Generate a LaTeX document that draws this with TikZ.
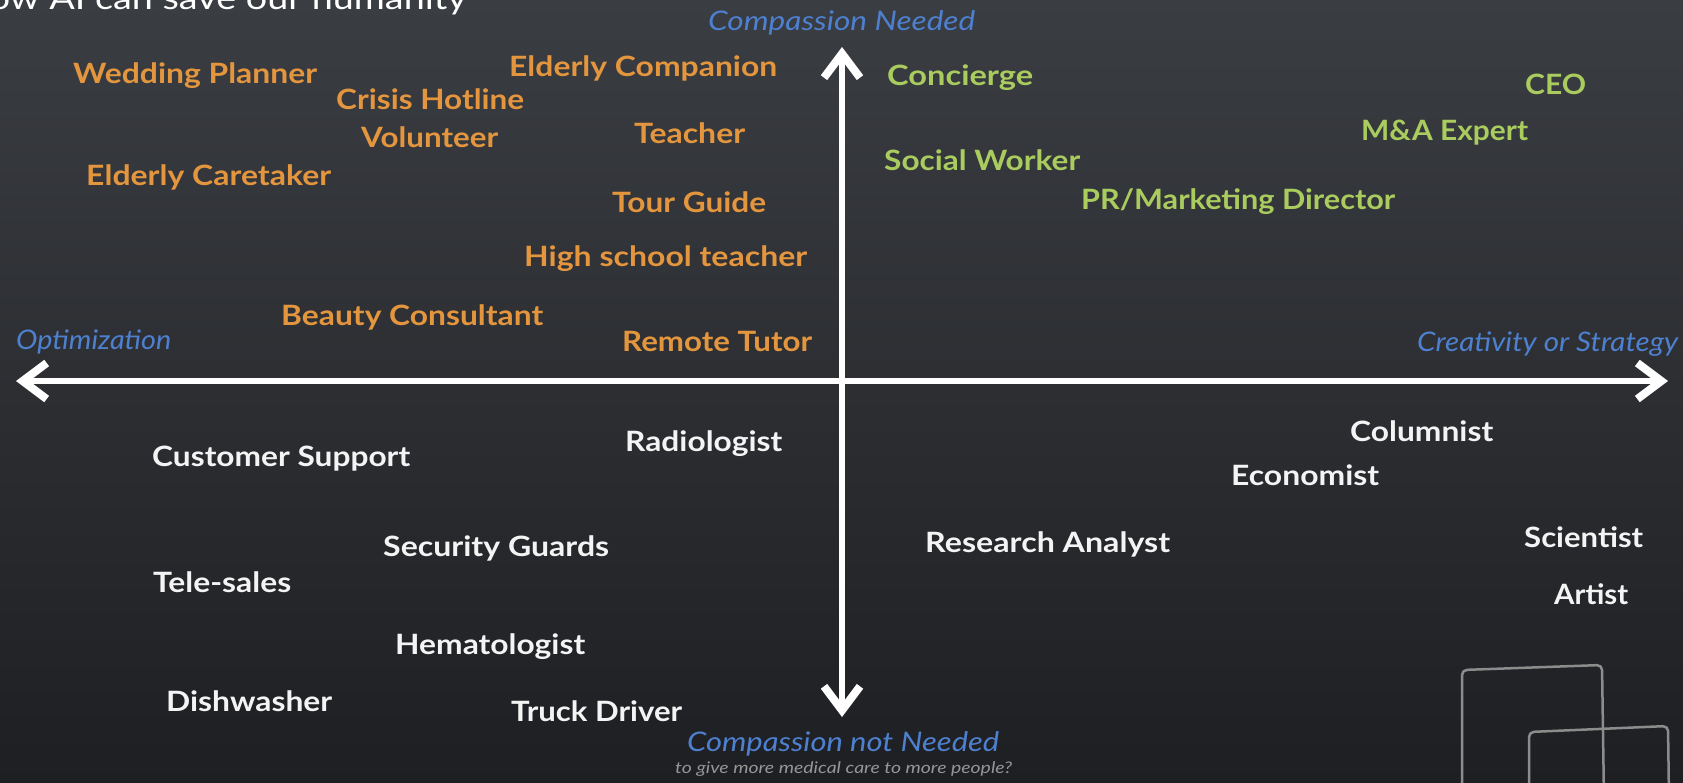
\documentclass[tikz,border=0pt]{standalone}
\usepackage{fontspec}
\setmainfont{Lato}
\usetikzlibrary{arrows.meta}
\definecolor{bgtop}{RGB}{58,61,66}
\definecolor{bgbot}{RGB}{30,31,34}
\definecolor{jorange}{RGB}{228,150,62}
\definecolor{jgreen}{RGB}{170,204,94}
\definecolor{jwhite}{RGB}{244,244,244}
\definecolor{axblue}{RGB}{78,128,208}
\definecolor{subgray}{RGB}{150,150,150}
\definecolor{logogray}{RGB}{140,140,140}
\newsavebox\fitbox
\newdimen\fitwd
\newcommand\fitw[2]{\sbox\fitbox{#2}\fitwd=\wd\fitbox\pgfmathsetmacro\fitr{#1/\fitwd}\scalebox{\fitr}[1]{\usebox\fitbox}}
\begin{document}
\begin{tikzpicture}[x=1pt,y=-1pt,
  job/.style={anchor=base west, inner sep=0pt, font=\fontsize{28}{30}\selectfont\bfseries},
  orj/.style={job, text=jorange},
  grj/.style={job, text=jgreen},
  whj/.style={job, text=jwhite},
  axl/.style={anchor=base west, inner sep=0pt, text=axblue, font=\fontsize{27}{29}\selectfont\itshape},
  axisline/.style={draw=white, line width=6pt,
    arrows={Straight Barb[length=24pt,width=36pt,line width=8pt]-Straight Barb[length=24pt,width=36pt,line width=8pt]}},
  logo/.style={draw=logogray, line width=2.5pt, rounded corners=5pt}
]
\useasboundingbox (0,0) rectangle (1683,783);
\clip (0,0) rectangle (1683,783);
\shade[top color=bgtop, bottom color=bgbot] (0,0) rectangle (1683,783);

% title (cut at top, as in the reference)
\node[anchor=base east, inner sep=0pt, text=white, font=\fontsize{32}{34}\selectfont] (title) at (467,10) {\scalebox{1.18}[1]{How AI can save our humanity}};

% axes
\coordinate (L) at (16,381);
\coordinate (R) at (1668,381);
\coordinate (T) at (842,47);
\coordinate (B) at (842,717);
\draw[axisline] (L) -- (R);
\draw[axisline] (B) -- (T);

% axis labels
\node[axl] (cn) at (708,31) {\fitw{267}{Compassion Needed}};
\node[axl] (opt) at (16,349) {\fitw{155}{Optimization}};
\node[axl] (cs) at (1417,352) {\fitw{261}{Creativity or Strategy}};
\node[axl] (cnn) at (687,751) {\fitw{312}{Compassion not Needed}};
\node[anchor=base west, inner sep=0pt, text=subgray, font=\fontsize{16}{18}\selectfont\itshape] (sub) at (675,773) {\fitw{337}{to give more medical care to more people?}};

% orange jobs
\node[orj] (wp) at (73,84) {\fitw{244}{Wedding Planner}};
\node[orj] (ch) at (336,110) {\fitw{188}{Crisis Hotline}};
\node[orj] (ec) at (509,77) {\fitw{268}{Elderly Companion}};
\node[orj] (vo) at (361,148) {\fitw{137}{Volunteer}};
\node[orj] (te) at (634,144) {\fitw{111}{Teacher}};
\node[orj] (ek) at (86,186) {\fitw{245}{Elderly Caretaker}};
\node[orj] (tg) at (612,213) {\fitw{154}{Tour Guide}};
\node[orj] (hs) at (524,267) {\fitw{283}{High school teacher}};
\node[orj] (bc) at (281,326) {\fitw{262}{Beauty Consultant}};
\node[orj] (rt) at (622,352) {\fitw{190}{Remote Tutor}};

% green jobs
\node[grj] (co) at (887,86) {\fitw{146}{Concierge}};
\node[grj] (ceo) at (1525,95) {\fitw{61}{CEO}};
\node[grj] (ma) at (1361,141) {\fitw{167}{M\&A Expert}};
\node[grj] (sw) at (884,171) {\fitw{196}{Social Worker}};
\node[grj] (pr) at (1081,210) {\fitw{314}{PR/Marketing Director}};

% white jobs
\node[whj] (cus) at (152,466) {\fitw{258}{Customer Support}};
\node[whj] (rad) at (625,451) {\fitw{157}{Radiologist}};
\node[whj] (col) at (1350,441) {\fitw{143}{Columnist}};
\node[whj] (eco) at (1231,485) {\fitw{148}{Economist}};
\node[whj] (ra) at (925,552) {\fitw{245}{Research Analyst}};
\node[whj] (sci) at (1524,547) {\fitw{119}{Scientist}};
\node[whj] (art) at (1554,604) {\fitw{74}{Artist}};
\node[whj] (sg) at (383,556) {\fitw{226}{Security Guards}};
\node[whj] (ts) at (153,592) {\fitw{138}{Tele-sales}};
\node[whj] (hem) at (395,654) {\fitw{190}{Hematologist}};
\node[whj] (dw) at (166,711) {\fitw{166}{Dishwasher}};
\node[whj] (td) at (511,721) {\fitw{171}{Truck Driver}};

% logo squares
\draw[logo] (1462,800) -- (1462,670) -- (1602,665) -- (1604,800);
\draw[logo] (1529,800) -- (1529,732) -- (1668,726) -- (1669,800);
\end{tikzpicture}
\end{document}
